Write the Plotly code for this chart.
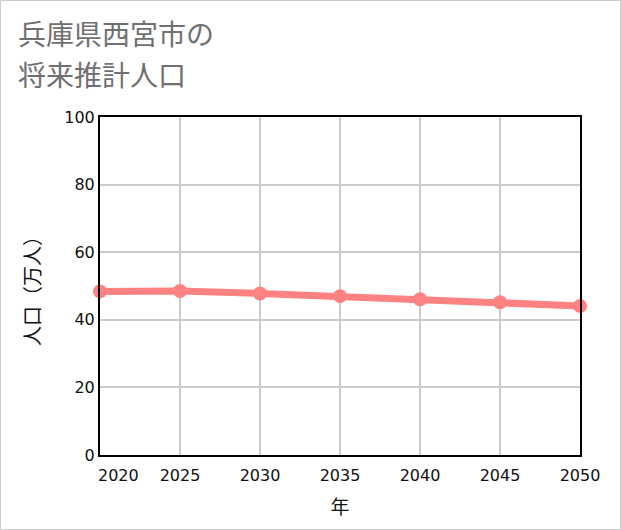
import plotly.graph_objects as go

# 将来推計人口（万人）
years = [2020, 2025, 2030, 2035, 2040, 2045, 2050]
population = [48.4, 48.5, 47.8, 47.0, 46.1, 45.2, 44.1]

y_ticks = [0, 20, 40, 60, 80, 100]
x_tick_labels = ["", "2025", "2030", "2035", "2040", "2045", "2050"]

title_lines = ["兵庫県西宮市の", "将来推計人口"]

W, H = 621, 530
L, R, T, B = 100, 41, 117, 75

fig = go.Figure()
fig.add_trace(go.Scatter(
    x=years, y=population, mode="lines+markers",
    line=dict(color="#ff8282", width=7),
    marker=dict(color="#ff8282", size=14),
    cliponaxis=False, hoverinfo="x+y",
))

tick_font = dict(family="DejaVu Sans", size=16, color="#111")

fig.update_layout(
    width=W, height=H,
    margin=dict(l=L, r=R, t=T, b=B),
    paper_bgcolor="white", plot_bgcolor="white",
    showlegend=False,
    xaxis=dict(
        range=[2020, 2050], tickvals=years, ticktext=x_tick_labels,
        showgrid=True, gridcolor="#cccccc", gridwidth=2,
        showline=True, linecolor="black", linewidth=2, mirror=True,
        ticks="", tickfont=tick_font, zeroline=False, ticklabelstandoff=5,
        title=dict(text="年", font=dict(family="Noto Sans CJK JP", size=19, color="#111"), standoff=16),
    ),
    yaxis=dict(
        range=[0, 100], tickvals=y_ticks,
        showgrid=True, gridcolor="#cccccc", gridwidth=2,
        showline=True, linecolor="black", linewidth=2, mirror=True,
        ticks="", tickfont=tick_font, zeroline=False,
        title=dict(text="人口（万人）", font=dict(family="Noto Sans CJK JP", size=20, color="#111"), standoff=18),
    ),
)

# first x label sits shifted right of the axis edge
fig.add_annotation(
    x=years[0], y=0, xref="x", yref="paper", text=str(years[0]),
    showarrow=False, xanchor="center", yanchor="top", xshift=18, yshift=-9,
    font=tick_font,
)

# two-line title, top-left (pixel positions converted to paper refs)
pw, ph = W - L - R, H - T - B
for i, line in enumerate(title_lines):
    fig.add_annotation(
        x=(16 - L) / pw, y=(H - B - (33 + 41 * i)) / ph, xref="paper", yref="paper",
        text=line, showarrow=False, xanchor="left", yanchor="middle",
        font=dict(family="Noto Sans CJK JP", size=28, color="#707070"),
    )

# light outer border around the whole picture
fig.add_shape(
    type="rect", xref="paper", yref="paper",
    x0=(0.5 - L) / pw, x1=(W - 0.5 - L) / pw,
    y0=(H - B - (H - 0.5)) / ph, y1=(H - B - 0.5) / ph,
    line=dict(color="#cccccc", width=1), layer="below",
)

fig.write_html("out.html", config={"displayModeBar": False},
               post_script="document.body.style.margin='0';")
